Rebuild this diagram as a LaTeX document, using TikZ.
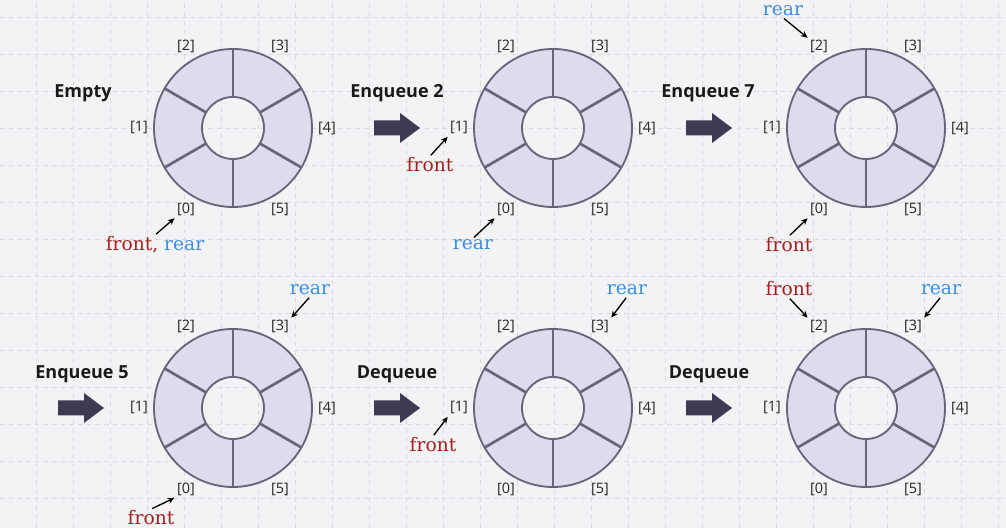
\documentclass[tikz,border=0pt]{standalone}
\usepackage{fontspec}
\setsansfont{Open Sans}
\newfontfamily\ptrfamily{DejaVu Serif}
\usepackage{xcolor}
\usepackage{tikz}
\usetikzlibrary{arrows.meta}
\definecolor{bgpaper}{HTML}{F3F3F6}
\definecolor{gridline}{HTML}{DADAE0}
\definecolor{ringfill}{HTML}{DCDCEC}
\definecolor{ringline}{HTML}{68657D}
\definecolor{bigarrow}{HTML}{3E3A52}
\definecolor{frontred}{HTML}{A3201F}
\definecolor{rearblue}{HTML}{3C8EDF}

\begin{document}
\begin{tikzpicture}[x=0.75pt,y=0.75pt,
    idx/.style={font=\sffamily\fontsize{10.8}{12}\selectfont,text=black!85,inner sep=1pt},
    stagelbl/.style={font=\sffamily\bfseries\fontsize{13.5}{16}\selectfont,text=black!90},
    frontlbl/.style={font=\ptrfamily\fontsize{14}{16}\selectfont,text=frontred,inner sep=1pt},
    rearlbl/.style={font=\ptrfamily\fontsize{14}{16}\selectfont,text=rearblue,inner sep=1pt},
    ptr/.style={-{Stealth[length=5pt,width=4.5pt]},line width=1pt,shorten >=1pt,shorten <=1pt},
    spoke/.style={ringline,line width=2pt},
    rim/.style={ringline,line width=1.4pt}]
    %
    \fill[bgpaper] (0,0) rectangle (1006,528);
    \useasboundingbox (0,0) rectangle (1006,528);
    \foreach \gx in {36,73,...,998}
        \draw[gridline,line width=0.6pt,dash pattern=on 3.5pt off 3pt] (\gx,0) -- (\gx,528);
    \foreach \gy in {30,67,...,511}
        \draw[gridline,line width=0.6pt,dash pattern=on 3.5pt off 3pt] (0,\gy) -- (1006,\gy);
    %
    \foreach \c/\x/\y in {a/233/400,b/553/400,c/866/400,d/233/120,e/553/120,f/866/120} {
        \fill[ringfill,even odd rule] (\x,\y) circle (79) (\x,\y) circle (31);
        \foreach \t in {30,90,...,330}
            \draw[spoke] ([shift={(\t:31)}]\x,\y) -- ([shift={(\t:79)}]\x,\y);
        \draw[rim] (\x,\y) circle (79) (\x,\y) circle (31);
        \foreach \i in {0,...,5}
            \node[idx] (\c\i) at ([shift={({240-60*\i}:94)}]\x,\y) {[\i]};
    }
    %
    \node[stagelbl] (empty) at (83,435) {Empty};
    \node[stagelbl] (enq2) at (397,435) {Enqueue 2};
    \node[stagelbl] (enq7) at (708,435) {Enqueue 7};
    \node[stagelbl] (enq5) at (82,154) {Enqueue 5};
    \node[stagelbl] (deq1) at (397,154) {Dequeue};
    \node[stagelbl] (deq2) at (709,154) {Dequeue};
    %
    \foreach \ax/\ay in {374/400,686/400,58/120,374/120,686/120}
        \fill[bigarrow] (\ax,\ay) ++(0,-7.5) -- ++(26,0) -- ++(0,-7.5) -- ++(20,15)
            -- ++(-20,15) -- ++(0,-7.5) -- ++(-26,0) -- cycle;
    %
    \node[frontlbl] (fa) at (155,283) {front, \textcolor{rearblue}{rear}};
    \node[frontlbl] (fb) at (430,363) {front};
    \node[rearlbl] (rb) at (473,283) {rear};
    \node[rearlbl] (rc) at (783,517) {rear};
    \node[frontlbl] (fc) at (789,283) {front};
    \node[rearlbl] (rd) at (310,238) {rear};
    \node[frontlbl] (fd) at (151,10) {front};
    \node[rearlbl] (re) at (627,238) {rear};
    \node[frontlbl] (fe) at (433,83) {front};
    \node[frontlbl] (ff) at (789,239) {front};
    \node[rearlbl] (rf) at (941,238) {rear};
    %
    \draw[ptr] (fa.north) -- (a0.south west);
    \draw[ptr] (fb.north) -- (b1.south west);
    \draw[ptr] (rb.north) -- (b0.south west);
    \draw[ptr] (rc.south) -- (c2.north west);
    \draw[ptr] (fc.north) -- (c0.south west);
    \draw[ptr] (rd.south) -- (d3.north east);
    \draw[ptr] (fd.north) -- (d0.south west);
    \draw[ptr] (re.south) -- (e3.north east);
    \draw[ptr] (fe.north) -- (e1.south west);
    \draw[ptr] (ff.south) -- (f2.north west);
    \draw[ptr] (rf.south) -- (f3.north east);
    %
\end{tikzpicture}
\end{document}
